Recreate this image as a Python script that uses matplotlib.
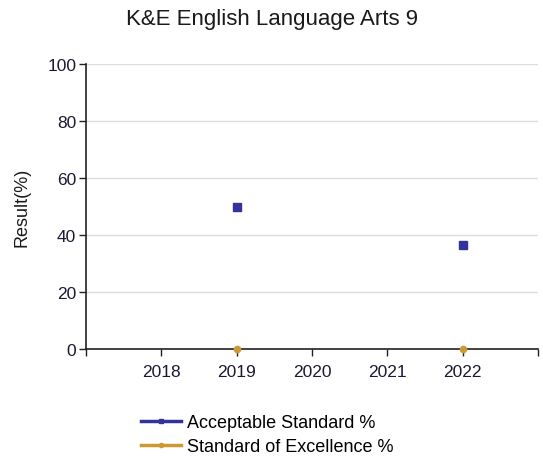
import matplotlib
matplotlib.use("Agg")
import matplotlib.pyplot as plt
from matplotlib.lines import Line2D

plt.rcParams['font.family'] = ['Liberation Sans', 'DejaVu Sans']

years = [2018, 2019, 2020, 2021, 2022]
acceptable = [None, 50.0, None, None, 36.4]
excellence = [None, 0.0, None, None, 0.0]
yticks = [0, 20, 40, 60, 80, 100]
title = "K&E English Language Arts 9"
ylabel = "Result(%)"
series_names = ["Acceptable Standard %", "Standard of Excellence %"]
colors = ["#333399", "#CC9933"]

fig = plt.figure(figsize=(5.43, 4.60), dpi=100)
ax = fig.add_axes([86/543, 1-350/460, (538-86)/543, (350-65)/460])

ax_x = [y for y, v in zip(years, acceptable) if v is not None]
ax_y = [v for v in acceptable if v is not None]
ex_x = [y for y, v in zip(years, excellence) if v is not None]
ex_y = [v for v in excellence if v is not None]

ax.plot(ax_x, ax_y, linestyle='none', marker='s', markersize=5.5, color=colors[0], zorder=5, clip_on=False)
ax.plot(ex_x, ex_y, linestyle='none', marker='o', markersize=4.5, color=colors[1], zorder=5, clip_on=False)

ax.set_xlim(2017, 2023)
ax.set_ylim(0, 100)
ax.set_xticks([2017] + years + [2023])
ax.set_xticklabels([""] + [str(y) for y in years] + [""])
ax.set_yticks(yticks)
ax.set_yticklabels([str(t) for t in yticks])
ax.yaxis.grid(True, color="#dddddd", linewidth=1)
ax.set_axisbelow(True)
ax.spines['top'].set_visible(False)
ax.spines['right'].set_visible(False)
ax.spines['left'].set_color('#222222')
ax.spines['bottom'].set_color('#222222')
ax.spines['left'].set_linewidth(1.2)
ax.spines['bottom'].set_linewidth(1.2)
ax.tick_params(axis='both', direction='out', length=5, width=1, color='#222222',
               labelsize=12.5, labelcolor='#1a1a33')
ax.tick_params(axis='x', pad=6)
ax.tick_params(axis='y', pad=2)

ax.set_ylabel(ylabel, fontsize=13, color='#1a1a1a', labelpad=12)
fig.text(0.5, 1-20/460, title, ha='center', va='center', fontsize=16, color='#1a1a1a')

handles = [Line2D([], [], color=c, linewidth=2.5, marker='s' if i == 0 else 'o', markersize=3)
           for i, c in enumerate(colors)]
fig.legend(handles, series_names, loc='upper left', bbox_to_anchor=(141/543, 1-415/460),
           frameon=False, fontsize=13, handlelength=2.2, labelspacing=0.4, handletextpad=0.35,
           borderaxespad=0, borderpad=0)

fig.savefig("out.png", dpi=100)
